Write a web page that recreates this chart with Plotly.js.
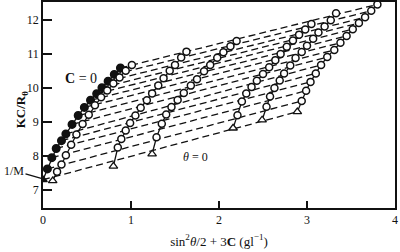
<!DOCTYPE html>
<html>
<head>
<meta charset="utf-8">
<script src="https://cdn.plot.ly/plotly-3.0.1.min.js"></script>
<style>html,body{margin:0;padding:0;background:#fff;}#chart{width:400px;height:252px;}</style>
</head>
<body>
<div id="chart"></div>
<script>
// theta = 0 extrapolated points (triangles): x = 3C, y = KC/R
var theta0X = [0, 0.11, 0.80, 1.24, 2.16, 2.49, 2.89];
var theta0Y = [7.30, 7.27, 7.70, 8.06, 8.82, 9.06, 9.30];

// C = 0 extrapolated points (filled circles)
var xC0 = [0.05, 0.10, 0.15, 0.21, 0.26, 0.33, 0.40, 0.47, 0.54, 0.61, 0.67, 0.74, 0.81, 0.88];
var yC0 = [7.62, 7.95, 8.22, 8.45, 8.65, 8.93, 9.19, 9.43, 9.64, 9.83, 10.01, 10.20, 10.40, 10.59];

// measured concentrations (open circles)
var xC1 = [0.16, 0.21, 0.26, 0.32, 0.38, 0.45, 0.52, 0.59, 0.66, 0.73, 0.80, 0.87, 0.94, 1.01];
var yC1 = [7.54, 7.75, 8.02, 8.33, 8.63, 8.94, 9.21, 9.49, 9.73, 9.93, 10.13, 10.31, 10.51, 10.68];
var xC2 = [0.85, 0.89, 0.94, 0.99, 1.05, 1.11, 1.18, 1.24, 1.31, 1.37, 1.44, 1.50, 1.57, 1.63];
var yC2 = [8.25, 8.50, 8.75, 8.97, 9.19, 9.42, 9.64, 9.84, 10.07, 10.29, 10.51, 10.68, 10.90, 11.07];
var xC3 = [1.29, 1.35, 1.40, 1.46, 1.53, 1.60, 1.68, 1.75, 1.83, 1.90, 1.98, 2.05, 2.13, 2.20];
var yC3 = [8.55, 8.95, 9.22, 9.44, 9.65, 9.85, 10.07, 10.26, 10.49, 10.68, 10.89, 11.05, 11.23, 11.38];
var xC4 = [2.21, 2.26, 2.31, 2.37, 2.43, 2.50, 2.57, 2.64, 2.70, 2.77, 2.84, 2.91, 2.98, 3.05];
var yC4 = [9.20, 9.60, 9.84, 10.03, 10.21, 10.41, 10.61, 10.82, 11.00, 11.21, 11.40, 11.57, 11.72, 11.88];
var xC5 = [2.54, 2.58, 2.63, 2.69, 2.74, 2.81, 2.87, 2.94, 3.00, 3.07, 3.13, 3.20, 3.27, 3.33];
var yC5 = [9.45, 9.75, 10.00, 10.22, 10.43, 10.66, 10.88, 11.06, 11.24, 11.45, 11.63, 11.81, 11.99, 12.20];
var xC6 = [2.94, 2.99, 3.04, 3.10, 3.16, 3.23, 3.31, 3.38, 3.45, 3.52, 3.59, 3.66, 3.73, 3.80];
var yC6 = [9.62, 9.92, 10.18, 10.43, 10.68, 10.91, 11.12, 11.33, 11.53, 11.73, 11.91, 12.08, 12.27, 12.46];

var xTicks = [0, 1, 2, 3, 4];
var yTicks = [7, 8, 9, 10, 11, 12];

var concX = [xC0, xC1, xC2, xC3, xC4, xC5, xC6];
var concY = [yC0, yC1, yC2, yC3, yC4, yC5, yC6];

var traces = [];
var dashStyle = '7px,4px';

// constant-angle (dashed) lines from C=0 point to the highest concentration
for (var j = 0; j < xC0.length; j++) {
  traces.push({
    x: [xC0[j], xC6[j]], y: [yC0[j], yC6[j]],
    mode: 'lines', hoverinfo: 'skip',
    line: {color: '#111', width: 1.3, dash: dashStyle}
  });
}
// theta = 0 dashed line
traces.push({
  x: [theta0X[0], theta0X[theta0X.length - 1]],
  y: [theta0Y[0], theta0Y[theta0Y.length - 1]],
  mode: 'lines', hoverinfo: 'skip',
  line: {color: '#111', width: 1.3, dash: dashStyle}
});

// constant-concentration solid lines
for (var i = 0; i < concX.length; i++) {
  var xs = [theta0X[i]].concat(concX[i]);
  var ys = [theta0Y[i]].concat(concY[i]);
  traces.push({
    x: xs, y: ys, mode: 'lines', hoverinfo: 'skip',
    line: {color: '#111', width: 1.3}
  });
  // circles
  traces.push({
    x: concX[i], y: concY[i], mode: 'markers', hoverinfo: 'skip',
    marker: {symbol: 'circle', size: i === 0 ? 7.5 : 7,
      color: i === 0 ? '#111' : '#fff',
      line: {color: '#111', width: 1.5}}
  });
  // triangle (theta = 0)
  traces.push({
    x: [theta0X[i]], y: [theta0Y[i]], mode: 'markers', hoverinfo: 'skip',
    marker: {symbol: 'triangle-up', size: 7.5,
      color: i === 0 ? '#111' : '#fff',
      line: {color: '#111', width: 1.3}}
  });
}

var serif = 'Liberation Serif, DejaVu Serif, serif';

var layout = {
  width: 400, height: 252,
  margin: {l: 43, r: 5, t: 2, b: 44},
  paper_bgcolor: '#fff', plot_bgcolor: '#fff',
  showlegend: false,
  font: {family: serif, color: '#111', size: 12},
  xaxis: {
    range: [0, 4], tickvals: xTicks, ticktext: xTicks.map(String),
    ticks: 'inside', ticklen: 7, tickwidth: 1.5, tickcolor: '#111',
    showline: true, linecolor: '#111', linewidth: 2, mirror: true,
    showgrid: false, zeroline: false,
    tickfont: {family: serif, size: 12, color: '#111'},
    title: {text: 'sin<sup>2</sup><i>θ</i>/2 + 3<b>C</b> (gl<sup>−1</sup>)',
      font: {family: serif, size: 13, color: '#111'}, standoff: 10}
  },
  yaxis: {
    range: [6.47, 12.53], tickvals: yTicks, ticktext: yTicks.map(String),
    ticks: 'inside', ticklen: 9, tickwidth: 1.5, tickcolor: '#111',
    showline: true, linecolor: '#111', linewidth: 1.8, mirror: true,
    showgrid: false, zeroline: false,
    tickfont: {family: serif, size: 12, color: '#111'}
  },
  annotations: [
    {x: -0.062, y: 0.48, xref: 'paper', yref: 'paper', text: '<b>KC/R<sub>θ</sub></b>',
     textangle: -90, showarrow: false, xanchor: 'center', yanchor: 'middle',
     font: {family: serif, size: 13, color: '#111'}},
    {x: 0.43, y: 10.29, xref: 'x', yref: 'y', text: '<b>C</b> = 0', showarrow: false,
     font: {family: serif, size: 14, color: '#111'}},
    {x: 1.73, y: 7.97, xref: 'x', yref: 'y', text: '<i>θ</i> = 0', showarrow: false,
     font: {family: serif, size: 12, color: '#111'}},
    {x: 0, y: 7.33, xref: 'x', yref: 'y', text: '1/M', showarrow: true,
     arrowhead: 0, arrowwidth: 1.3, arrowcolor: '#111', ax: -29, ay: -8,
     font: {family: serif, size: 12, color: '#111'}}
  ]
};

Plotly.newPlot('chart', traces, layout, {displayModeBar: false, staticPlot: true});
</script>
</body>
</html>
